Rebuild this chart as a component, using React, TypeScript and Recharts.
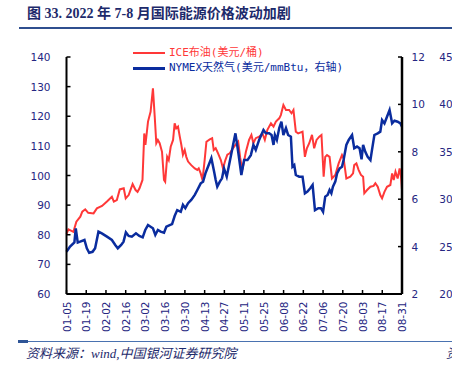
import React from 'react';
import { LineChart, Line, XAxis, YAxis } from 'recharts';

// x-axis tick labels (every 10 trading days)
const tickLabels = ['01-05', '01-19', '02-02', '02-16', '03-02', '03-16', '03-30', '04-13', '04-27', '05-11', '05-25', '06-08', '06-22', '07-06', '07-20', '08-03', '08-17', '08-31'];
const tickDays = tickLabels.map((_, i) => i * 10);

const leftTicks = [60, 70, 80, 90, 100, 110, 120, 130, 140];
const rightTicks = [2, 4, 6, 8, 10, 12];
// labels of the neighbouring (cut-off) axis shown at the far right edge, paired with rightTicks
const farTicks = [20, 25, 30, 35, 40, 45];

// ICE Brent (USD/bbl), trading-day index from 01-05
const brentDay = [0, 1, 3.5, 5, 7, 8, 9.5, 11, 13.7, 15.4, 18, 20.5, 23, 24, 25.5, 27, 29, 30, 31.5, 33.5, 35, 36, 37, 38.5, 39.4, 40, 41.3, 42.6, 43.8, 44.7, 45.5, 46.3, 47.2, 48.4, 49.4, 50, 51, 51.8, 52.8, 54, 54.8, 55.6, 56.5, 57.4, 58.2, 59, 59.9, 60.7, 61.6, 63.2, 65, 66.3, 67, 68, 68.7, 69.2, 70, 70.9, 72.6, 73.8, 74.6, 75.6, 76.8, 78.2, 79.3, 80.5, 81.5, 82.7, 84.4, 85.6, 87, 88, 89.1, 90.9, 92.5, 93.7, 94.7, 95.9, 97.6, 99.3, 100.5, 101.8, 103.6, 104.9, 106.1, 107.8, 108.6, 109.9, 111.2, 112.8, 114, 115, 116.2, 117.4, 119.6, 120.8, 121.8, 123, 124.4, 125.5, 126.7, 128.1, 129.2, 130.3, 131.1, 132, 133.3, 134.5, 136.2, 137.9, 139.6, 140.4, 141.8, 143.8, 145.2, 145.8, 146.9, 148, 149.2, 150.3, 150.9, 152.3, 154, 155.6, 156.5, 157.7, 159, 159.9, 161.1, 162.4, 164.1, 165, 165.8, 166.7, 167.8, 168.8, 169.5, 170];
const brentPrice = [80.3, 81.8, 81.0, 84.4, 86.1, 87.8, 88.6, 87.4, 87.2, 88.9, 89.7, 91.2, 92.8, 91.2, 91.7, 95.3, 95.7, 92.3, 93.4, 97.1, 95.1, 94.5, 95.7, 98.5, 114.2, 110.3, 118.2, 121.5, 129.4, 119.9, 110.9, 112, 110.9, 108, 98.5, 97.9, 106.3, 105.2, 109.7, 112, 117.6, 115.9, 116.5, 113.1, 110.3, 107, 108.6, 106.3, 104.7, 103.5, 102.4, 101.9, 102.4, 100.7, 99, 100.2, 105.2, 111.4, 112.2, 112.6, 108.6, 109.2, 107.5, 105.2, 102.4, 105.2, 107, 107.5, 109.2, 110.3, 111.4, 106, 101.9, 108, 112, 113.7, 110.9, 112.6, 113.1, 114.2, 112, 115.4, 117.6, 116.5, 118.2, 119.3, 120.4, 123.8, 122.1, 122.1, 121, 122.1, 114.8, 114.2, 114.8, 106.3, 109.2, 110.9, 113.7, 109.2, 112, 113.1, 113.7, 99.6, 106.3, 106.9, 106.3, 99, 100.2, 104.1, 106.9, 105.8, 99, 99.6, 100.7, 103.5, 104.1, 101.9, 100.2, 99.6, 94, 95.1, 96.2, 96.5, 97.4, 96.2, 93.4, 92.3, 94.5, 96.2, 96.8, 100.7, 98.5, 101.3, 99, 102.4, 99.6, 95.1];

// NYMEX natural gas (USD/mmBtu, right axis)
const gasDay = [0, 1.8, 4, 4.7, 5.7, 6.9, 9.1, 10.3, 11.5, 13.2, 14.5, 16.2, 17.9, 20.5, 23, 24.7, 26, 27.7, 28.9, 30.1, 31.5, 33.1, 35.2, 36.9, 38.6, 39.9, 41.3, 42.6, 43.8, 45, 46.3, 47.7, 49.4, 50.6, 52.3, 53.5, 54.8, 56.1, 57.9, 59, 60.2, 61.6, 63.2, 65, 66.3, 68, 69.2, 70.4, 71.7, 73.4, 74.8, 75.6, 76.4, 77.7, 78.8, 79.8, 81.2, 82.7, 84.4, 85.6, 87, 88.6, 90, 91.7, 93.4, 94.7, 95.9, 97.6, 99.8, 101, 102.7, 103.9, 104.9, 105.6, 106.6, 107.8, 108.9, 109.9, 111.2, 112.3, 113.7, 114.5, 115.4, 116.2, 117.9, 119.6, 120.8, 122.1, 123.5, 124.7, 125.9, 127.6, 128.9, 130, 131.1, 132.3, 133.3, 134.2, 135, 136.2, 137.1, 138.4, 139.6, 140.4, 141.8, 143, 144.7, 145.8, 147.2, 148.5, 149.5, 150.3, 151.4, 152.6, 154, 154.8, 156, 157.7, 159, 159.9, 161.1, 162.4, 163.7, 165, 166.2, 167.8, 169.2, 170];
const gasPrice = [3.78, 4.0, 4.18, 4.77, 4.17, 4.21, 4.28, 3.93, 3.74, 3.78, 3.93, 4.63, 4.56, 4.42, 4.28, 4.07, 3.93, 4.07, 4.21, 4.6, 4.45, 4.42, 4.56, 4.45, 4.39, 4.7, 4.91, 4.84, 4.77, 4.49, 4.7, 4.63, 4.59, 4.84, 4.91, 4.95, 5.29, 5.54, 5.47, 5.76, 5.62, 5.83, 5.97, 6.18, 6.39, 6.67, 6.74, 7.09, 7.37, 7.73, 7.16, 6.81, 6.53, 6.74, 6.88, 7.3, 6.95, 7.58, 8.29, 8.78, 8.0, 7.02, 7.65, 7.65, 7.86, 8.29, 8.08, 8.5, 8.92, 8.78, 8.78, 8.71, 8.29, 8.71, 8.5, 9.0, 9.27, 8.71, 9.0, 8.71, 8.64, 7.37, 7.44, 7.02, 6.95, 6.95, 6.25, 6.32, 6.46, 6.6, 5.54, 5.62, 5.62, 5.47, 6.11, 6.18, 6.39, 6.25, 6.53, 6.74, 7.09, 7.3, 7.37, 7.65, 8.29, 8.5, 8.71, 8.15, 8.22, 8.15, 7.68, 8.29, 8.0, 7.79, 7.65, 8.08, 8.71, 8.78, 8.85, 9.34, 9.2, 9.48, 9.76, 9.2, 9.31, 9.27, 9.2, 9.06];

const brentData = brentDay.map((d, i) => ({ d, v: brentPrice[i] }));
const gasData = gasDay.map((d, i) => ({ d, v: gasPrice[i] }));

const RED = '#ff3838';
const BLUE = '#0a2c9e';
const AXIS_TEXT = '#262682';
const NAVY = '#1d2a6b';
const TICK_FONT = 'DejaVu Sans, sans-serif';

const LEFT_MARGIN = 16;
const RIGHT_MARGIN = 9.5;
const FAR_OFFSET = 37.3;
const BOTTOM_MARGIN = 7.5;

const LeftTick = (props: any) => {
  const { x, y, payload } = props;
  const ax = x + LEFT_MARGIN;
  return (
    <g>
      <line x1={ax} y1={y} x2={ax + 4} y2={y} stroke="#000" strokeWidth={1.5} />
      <text x={x} y={y} textAnchor="end" dominantBaseline="central" fill={AXIS_TEXT} fontSize={10.5} fontFamily={TICK_FONT}>
        {payload.value}
      </text>
    </g>
  );
};

const RightTick = (props: any) => {
  const { x, y, payload } = props;
  const ax = x - RIGHT_MARGIN;
  const far = farTicks[rightTicks.indexOf(payload.value)];
  return (
    <g>
      <line x1={ax} y1={y} x2={ax - 4} y2={y} stroke="#000" strokeWidth={1.5} />
      <text x={x} y={y} textAnchor="start" dominantBaseline="central" fill={AXIS_TEXT} fontSize={10.5} fontFamily={TICK_FONT}>
        {payload.value}
      </text>
      <text x={ax + FAR_OFFSET} y={y} textAnchor="start" dominantBaseline="central" fill={AXIS_TEXT} fontSize={10.5} fontFamily={TICK_FONT}>
        {far}
      </text>
    </g>
  );
};

const BottomTick = (props: any) => {
  const { x, y, payload } = props;
  const ay = y - BOTTOM_MARGIN;
  const label = tickLabels[Math.round(payload.value / 10)];
  return (
    <g>
      <line x1={x} y1={ay} x2={x} y2={ay - 4} stroke="#000" strokeWidth={1.5} />
      <text
        transform={`translate(${x},${y}) rotate(-90)`}
        textAnchor="end"
        dominantBaseline="central"
        fill={AXIS_TEXT}
        fontSize={10.5}
        fontFamily={TICK_FONT}
      >
        {label}
      </text>
    </g>
  );
};

const abs = (style: React.CSSProperties): React.CSSProperties => ({ position: 'absolute', whiteSpace: 'nowrap', ...style });

export default function App() {
  return (
    <div style={{ position: 'absolute', left: 0, top: 0, width: 452, height: 365, overflow: 'hidden', background: '#fff' }}>
      {/* title */}
      <div
        style={abs({
          left: 27,
          top: 7,
          fontSize: 14,
          lineHeight: '14px',
          fontWeight: 'bold',
          color: NAVY,
          fontFamily: '"Liberation Serif", "Noto Sans CJK SC", serif',
        })}
      >
        图 33. 2022 年 7-8 月国际能源价格波动加剧
      </div>
      <div style={abs({ left: 19, top: 27, width: 433, height: 2, background: '#2f4f8f' })} />

      <div style={{ position: 'absolute', left: 0, top: 0 }}>
        <LineChart width={470} height={365} margin={{ top: 57, right: 2, bottom: 11, left: 6.5 }}>
          <XAxis
            dataKey="d"
            type="number"
            domain={[0, 170]}
            ticks={tickDays}
            interval={0}
            height={60}
            tickSize={0}
            tickMargin={BOTTOM_MARGIN}
            tickLine={false}
            axisLine={{ stroke: '#000', strokeWidth: 2 }}
            tick={<BottomTick />}
          />
          <YAxis
            yAxisId="left"
            orientation="left"
            domain={[60, 140]}
            ticks={leftTicks}
            interval={0}
            width={60}
            tickSize={0}
            tickMargin={LEFT_MARGIN}
            tickLine={false}
            axisLine={{ stroke: '#000', strokeWidth: 2 }}
            tick={<LeftTick />}
          />
          <YAxis
            yAxisId="right"
            orientation="right"
            domain={[2, 12]}
            ticks={rightTicks}
            interval={0}
            width={66}
            tickSize={0}
            tickMargin={RIGHT_MARGIN}
            tickLine={false}
            axisLine={{ stroke: '#000', strokeWidth: 2.5 }}
            tick={<RightTick />}
          />
          <Line
            yAxisId="left"
            data={brentData}
            dataKey="v"
            type="linear"
            stroke={RED}
            strokeWidth={2}
            dot={false}
            activeDot={false}
            isAnimationActive={false}
          />
          <Line
            yAxisId="right"
            data={gasData}
            dataKey="v"
            type="linear"
            stroke={BLUE}
            strokeWidth={2.5}
            dot={false}
            activeDot={false}
            isAnimationActive={false}
          />
        </LineChart>
      </div>

      {/* legend */}
      <div style={abs({ left: 133, top: 51.7, width: 32, height: 2, background: RED })} />
      <div style={abs({ left: 133, top: 67.2, width: 32, height: 2.5, background: BLUE })} />
      <div
        style={abs({
          left: 169,
          top: 46.5,
          fontSize: 11,
          lineHeight: '12px',
          color: RED,
          fontFamily: '"DejaVu Sans Mono", "Noto Sans CJK SC", monospace',
        })}
      >
        ICE布油(美元/桶)
      </div>
      <div
        style={abs({
          left: 169,
          top: 62.2,
          fontSize: 11,
          lineHeight: '12px',
          color: BLUE,
          fontFamily: '"DejaVu Sans Mono", "Noto Sans CJK SC", monospace',
        })}
      >
        NYMEX天然气(美元/mmBtu，右轴)
      </div>

      {/* source */}
      <div style={abs({ left: 18, top: 341, width: 434, height: 1, background: '#4a72b0' })} />
      <div style={abs({ left: 18, top: 340, width: 10, height: 3, background: '#2f5597' })} />
      <div
        style={abs({
          left: 26,
          top: 347,
          fontSize: 13,
          lineHeight: '14px',
          fontStyle: 'italic',
          color: NAVY,
          fontFamily: '"Liberation Serif", "Noto Sans CJK SC", serif',
        })}
      >
        资料来源：wind,中国银河证券研究院
      </div>
      <div
        style={abs({
          left: 446,
          top: 347,
          fontSize: 13,
          lineHeight: '14px',
          fontStyle: 'italic',
          color: NAVY,
          fontFamily: '"Liberation Serif", "Noto Sans CJK SC", serif',
        })}
      >
        资
      </div>
    </div>
  );
}
